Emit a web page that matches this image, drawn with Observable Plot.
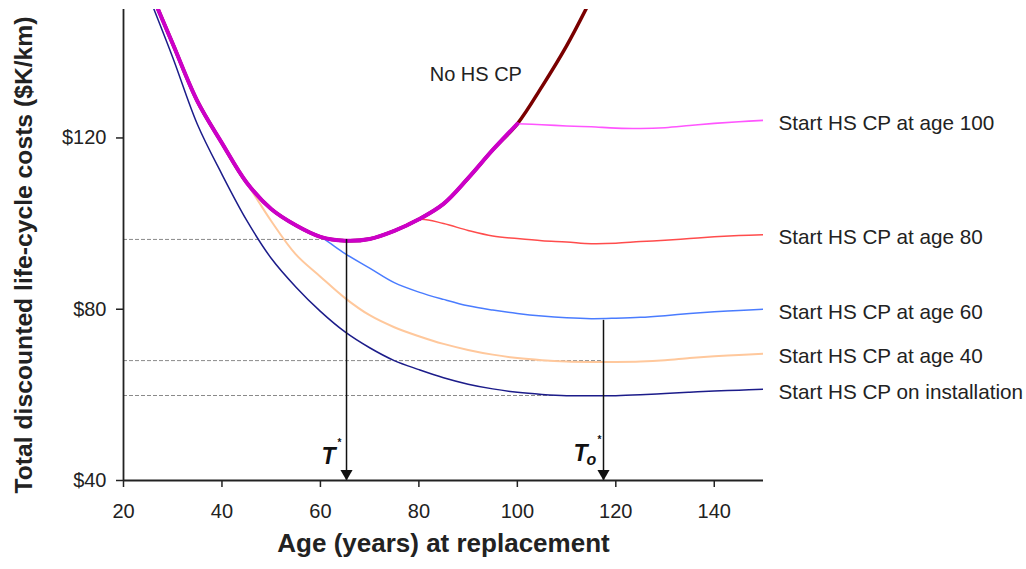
<!DOCTYPE html>
<html><head><meta charset="utf-8">
<script src="https://cdn.jsdelivr.net/npm/d3@7"></script>
<script src="https://cdn.jsdelivr.net/npm/@observablehq/plot@0.6"></script>
<style>
html,body{margin:0;padding:0;background:#fff;}
</style></head><body><div id="chart"></div>
<script>
// ---- data ----
const ages = [25,30,35,40,45,50,55,60,65,70,75,80,85,90,95,100,105,110,115,120,125,130,135,140,145,150];
const noHS        = [155.5,142.0,128.6,118.8,109.6,103.4,99.6,96.9,96.0,96.4,98.3,101.0,104.6,110.6,117.2,123.3,132.0,141.5,152.5,null,null,null,null,null,null,null];
const start100    = [155.5,142.0,128.6,118.8,109.6,103.4,99.6,96.9,96.0,96.4,98.3,101.0,104.6,110.6,117.2,123.3,123.1,122.8,122.6,122.3,122.2,122.4,122.9,123.4,123.8,124.1];
const start80     = [155.5,142.0,128.6,118.8,109.6,103.4,99.6,96.9,96.0,96.4,98.3,101.0,100.0,98.4,97.1,96.5,96.0,95.7,95.3,95.4,95.8,96.1,96.5,96.9,97.2,97.4];
const start60     = [155.5,142.0,128.6,118.8,109.6,103.4,99.6,96.9,93.0,89.6,86.2,84.0,82.3,80.8,79.8,79.0,78.4,78.0,77.8,77.9,78.1,78.5,79.0,79.4,79.7,80.0];
const start40     = [155.5,142.0,128.6,118.8,109.6,100.6,92.8,87.6,82.6,78.6,75.8,73.7,71.9,70.5,69.4,68.6,68.1,67.8,67.7,67.7,67.8,68.1,68.6,69.0,69.3,69.6];
const startInstall= [153.5,138.8,123.2,111.5,100.8,91.9,85.2,79.5,74.7,71.0,68.0,65.9,64.0,62.5,61.4,60.6,60.1,59.8,59.8,59.8,60.0,60.3,60.6,60.9,61.1,61.3];

const seriesNames = ["Start HS CP at age 100","Start HS CP at age 80","Start HS CP at age 60","Start HS CP at age 40","Start HS CP on installation"];
const noHSName = "No HS CP";
const xTicks = [20,40,60,80,100,120,140];
const yTicks = [40,80,120];
const dashY   = [96.3, 68.0, 59.85];
const dashEnd = [65.3, 117.5, 117.5];
const optAges = [65.3, 117.5];
const optCost = [96.3, 77.4];
const noHSLabelPos = [82.2, 134.9];

// ---- build tables ----
const toRows = (vals) => ages.map((a,i) => ({age:a, v:vals[i]}));
const rNo = toRows(noHS), r100 = toRows(start100), r80 = toRows(start80),
      r60 = toRows(start60), r40 = toRows(start40), rIn = toRows(startInstall);
const dashes = dashY.map((y,i) => ({y, x2: dashEnd[i]}));
const arrows = optAges.map((x,i) => ({x, y1: optCost[i]}));
const lastVals = [start100, start80, start60, start40, startInstall].map(a => a[a.length-1]);
const labels = seriesNames.map((n,i) => ({n, v: lastVals[i]}));

const font = '"Liberation Sans", Arial, sans-serif';
const lineOpt = (stroke, w) => ({x:"age", y:"v", stroke, strokeWidth:w, curve:"catmull-rom", clip:true});

const chart = Plot.plot({
  width: 1026, height: 569,
  marginLeft: 123, marginRight: 263, marginTop: 9, marginBottom: 89,
  x: {domain:[20,150]},
  y: {domain:[40,150]},
  style: {fontFamily: font, fontSize: "20px", color: "#222", background: "#fff"},
  marks: [
    Plot.ruleY(dashes, {y:"y", x1:20, x2:"x2", stroke:"#8a8a8a", strokeWidth:1, strokeDasharray:"4,2"}),
    Plot.line(rNo, lineOpt("#7a0000", 3.5)),
    Plot.line(rIn, lineOpt("#1c1c8a", 1.5)),
    Plot.line(r40, lineOpt("#ffc89c", 2)),
    Plot.line(r60, lineOpt("#4a7cff", 1.5)),
    Plot.line(r80, lineOpt("#ff4c4c", 1.5)),
    Plot.line(r100.filter(d => d.age >= 100), lineOpt("#ff55ff", 1.6)),
    Plot.line(r100.filter(d => d.age <= 100), lineOpt("#cc00c8", 4)),
    // optimum arrows
    Plot.ruleX(arrows, {x:"x", y1:"y1", y2:40, stroke:"#111", strokeWidth:1.5}),
    Plot.dot(arrows, {x:"x", y:40, symbol:"triangle", r:4.5, rotate:180, fill:"#111", stroke:null, dy:-7}),
    // axes
    Plot.axisX({ticks: xTicks, tickSize:7, tickPadding:16, fontSize:20, label:null, stroke:"#222", strokeWidth:1.5}),
    Plot.axisY({ticks: yTicks, tickFormat: d => "$" + d, tickSize:7, tickPadding:10, fontSize:20, label:null, stroke:"#222", strokeWidth:1.5}),
    Plot.ruleX([20], {stroke:"#222", strokeWidth:1.8}),
    Plot.ruleY([40], {stroke:"#222", strokeWidth:1.8}),
    // T labels
    Plot.text([optAges[0]], {x: d=>d, y:40, text:()=>"T", dx:-18, dy:-24, fontSize:23, fontWeight:"bold", fontStyle:"italic", fill:"#111"}),
    Plot.text([optAges[0]], {x: d=>d, y:40, text:()=>"*", dx:-7, dy:-38, fontSize:10, fontWeight:"bold", fill:"#111"}),
    Plot.text([optAges[1]], {x: d=>d, y:40, text:()=>"T", dx:-23, dy:-27, fontSize:23, fontWeight:"bold", fontStyle:"italic", fill:"#111"}),
    Plot.text([optAges[1]], {x: d=>d, y:40, text:()=>"o", dx:-12, dy:-21, fontSize:16, fontWeight:"bold", fontStyle:"italic", fill:"#111"}),
    Plot.text([optAges[1]], {x: d=>d, y:40, text:()=>"*", dx:-4, dy:-41, fontSize:10, fontWeight:"bold", fill:"#111"}),
    // series labels
    Plot.text(labels, {x:150, y:"v", text:"n", textAnchor:"start", dx:15, dy:3, fontSize:20.7, fill:"#222"}),
    Plot.text([noHSName], {x:noHSLabelPos[0], y:noHSLabelPos[1], text:d=>d, textAnchor:"start", fontSize:20, fill:"#222"}),
    // axis titles
    Plot.text(["Age (years) at replacement"], {frameAnchor:"bottom", text:d=>d, textAnchor:"middle", dy:71, fontSize:26, fontWeight:"bold", fill:"#222"}),
    Plot.text(["Total discounted life-cycle costs ($K/km)"], {frameAnchor:"left", text:d=>d, textAnchor:"middle", dx:-99, dy:10, rotate:-90, fontSize:24.7, fontWeight:"bold", fill:"#222"})
  ]
});
document.getElementById("chart").appendChild(chart);
</script>
</body></html>
